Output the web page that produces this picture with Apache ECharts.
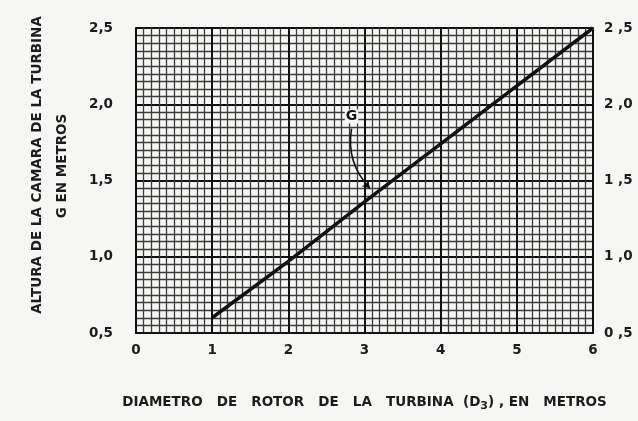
<!DOCTYPE html>
<html>
<head>
<meta charset="utf-8">
<script src="https://cdn.jsdelivr.net/npm/echarts@6/dist/echarts.min.js"></script>
<style>
html,body{margin:0;padding:0;background:#f6f6f4;}
#c{width:638px;height:421px;}
</style>
</head>
<body>
<div id="c"></div>
<script>
// Data
const xValues = [1, 2, 3, 4, 5, 6];
const gValues = [0.6, 0.97, 1.36, 1.74, 2.12, 2.5];
const xTickLabels = ['0', '1', '2', '3', '4', '5', '6'];
const yTickLabels = ['0,5', '1,0', '1,5', '2,0', '2,5'];
const labelG = 'G';
const labelGPos = [2.83, 1.92];
const arrowFrom = [2.83, 1.84];
const arrowTo = [3.07, 1.45];
const yTitle1 = 'ALTURA DE LA CAMARA DE LA TURBINA';
const yTitle2 = 'G EN METROS';

const FONT = "'DejaVu Sans',Arial,sans-serif";
const TXT = '#1c1c1c';
const chart = echarts.init(document.getElementById('c'));

function yLab(v) {
  const idx = Math.round((v - 0.5) / 0.5);
  return yTickLabels[idx] !== undefined ? yTickLabels[idx] : '';
}

const option = {
  backgroundColor: '#f6f6f4',
  animation: false,
  grid: { left: 136, right: 45, top: 28, bottom: 88 },
  xAxis: {
    type: 'value', min: 0, max: 6, interval: 1,
    axisLine: { show: true, lineStyle: { color: '#111', width: 2 } },
    axisTick: { show: false },
    axisLabel: {
      margin: 10, color: TXT, fontWeight: 'bold', fontSize: 13.5, fontFamily: FONT,
      formatter: v => xTickLabels[Math.round(v)] !== undefined ? xTickLabels[Math.round(v)] : ''
    },
    splitLine: { show: true, lineStyle: { color: '#111', width: 2 } },
    minorTick: { show: false, splitNumber: 10 },
    minorSplitLine: { show: true, lineStyle: { color: '#3c3c3c', width: 1.3 } },
    name: '{a|DIAMETRO   DE   ROTOR   DE   LA   TURBINA  (D}{s|3}{a|) , EN   METROS}',
    nameLocation: 'middle', nameGap: 59,
    nameTextStyle: {
      rich: {
        a: { fontSize: 13.5, fontWeight: 'bold', color: TXT, fontFamily: FONT },
        s: { fontSize: 11, fontWeight: 'bold', color: TXT, fontFamily: FONT, padding: [9, 0, 0, 0] }
      }
    }
  },
  yAxis: [
    {
      type: 'value', min: 0.5, max: 2.5, interval: 0.5,
      axisLine: { show: true, lineStyle: { color: '#111', width: 2 } },
      axisTick: { show: false },
      axisLabel: { margin: 23, color: TXT, fontWeight: 'bold', fontSize: 13.5, fontFamily: FONT, formatter: yLab },
      splitLine: { show: true, lineStyle: { color: '#111', width: 2 } },
      minorTick: { show: false, splitNumber: 10 },
      minorSplitLine: { show: true, lineStyle: { color: '#3c3c3c', width: 1.3 } }
    },
    {
      type: 'value', min: 0.5, max: 2.5, interval: 0.5, position: 'right',
      axisLine: { show: true, lineStyle: { color: '#111', width: 2 } },
      axisTick: { show: false },
      axisLabel: { margin: 11, color: TXT, fontWeight: 'bold', fontSize: 13.5, fontFamily: FONT, formatter: v => yLab(v).replace(',', ' ,') },
      splitLine: { show: false }
    }
  ],
  graphic: [
    { type: 'text', x: 37, y: 165, rotation: Math.PI / 2,
      style: { text: yTitle1, fill: TXT, font: "bold 13.5px " + FONT, align: 'center', verticalAlign: 'middle' } },
    { type: 'text', x: 62, y: 166, rotation: Math.PI / 2,
      style: { text: yTitle2, fill: TXT, font: "bold 13.5px " + FONT, align: 'center', verticalAlign: 'middle' } }
  ],
  series: [
    {
      type: 'line', data: xValues.map((x, i) => [x, gValues[i]]),
      showSymbol: false, symbol: 'none',
      lineStyle: { color: '#111', width: 3.5 }
    },
    {
      type: 'lines', coordinateSystem: 'cartesian2d', silent: true,
      symbol: ['none', 'arrow'], symbolSize: 7,
      lineStyle: { color: '#111', width: 1.6, opacity: 1, curveness: -0.25 },
      data: [{ coords: [arrowFrom, arrowTo] }]
    },
    {
      type: 'scatter', data: [labelGPos], symbolSize: 0,
      itemStyle: { opacity: 1 },
      label: { show: true, position: 'inside', formatter: labelG, fontSize: 14, fontWeight: 'bold', color: '#111', fontFamily: FONT, backgroundColor: '#f6f6f4', padding: [0, 1] }
    }
  ]
};
chart.setOption(option);
</script>
</body>
</html>
